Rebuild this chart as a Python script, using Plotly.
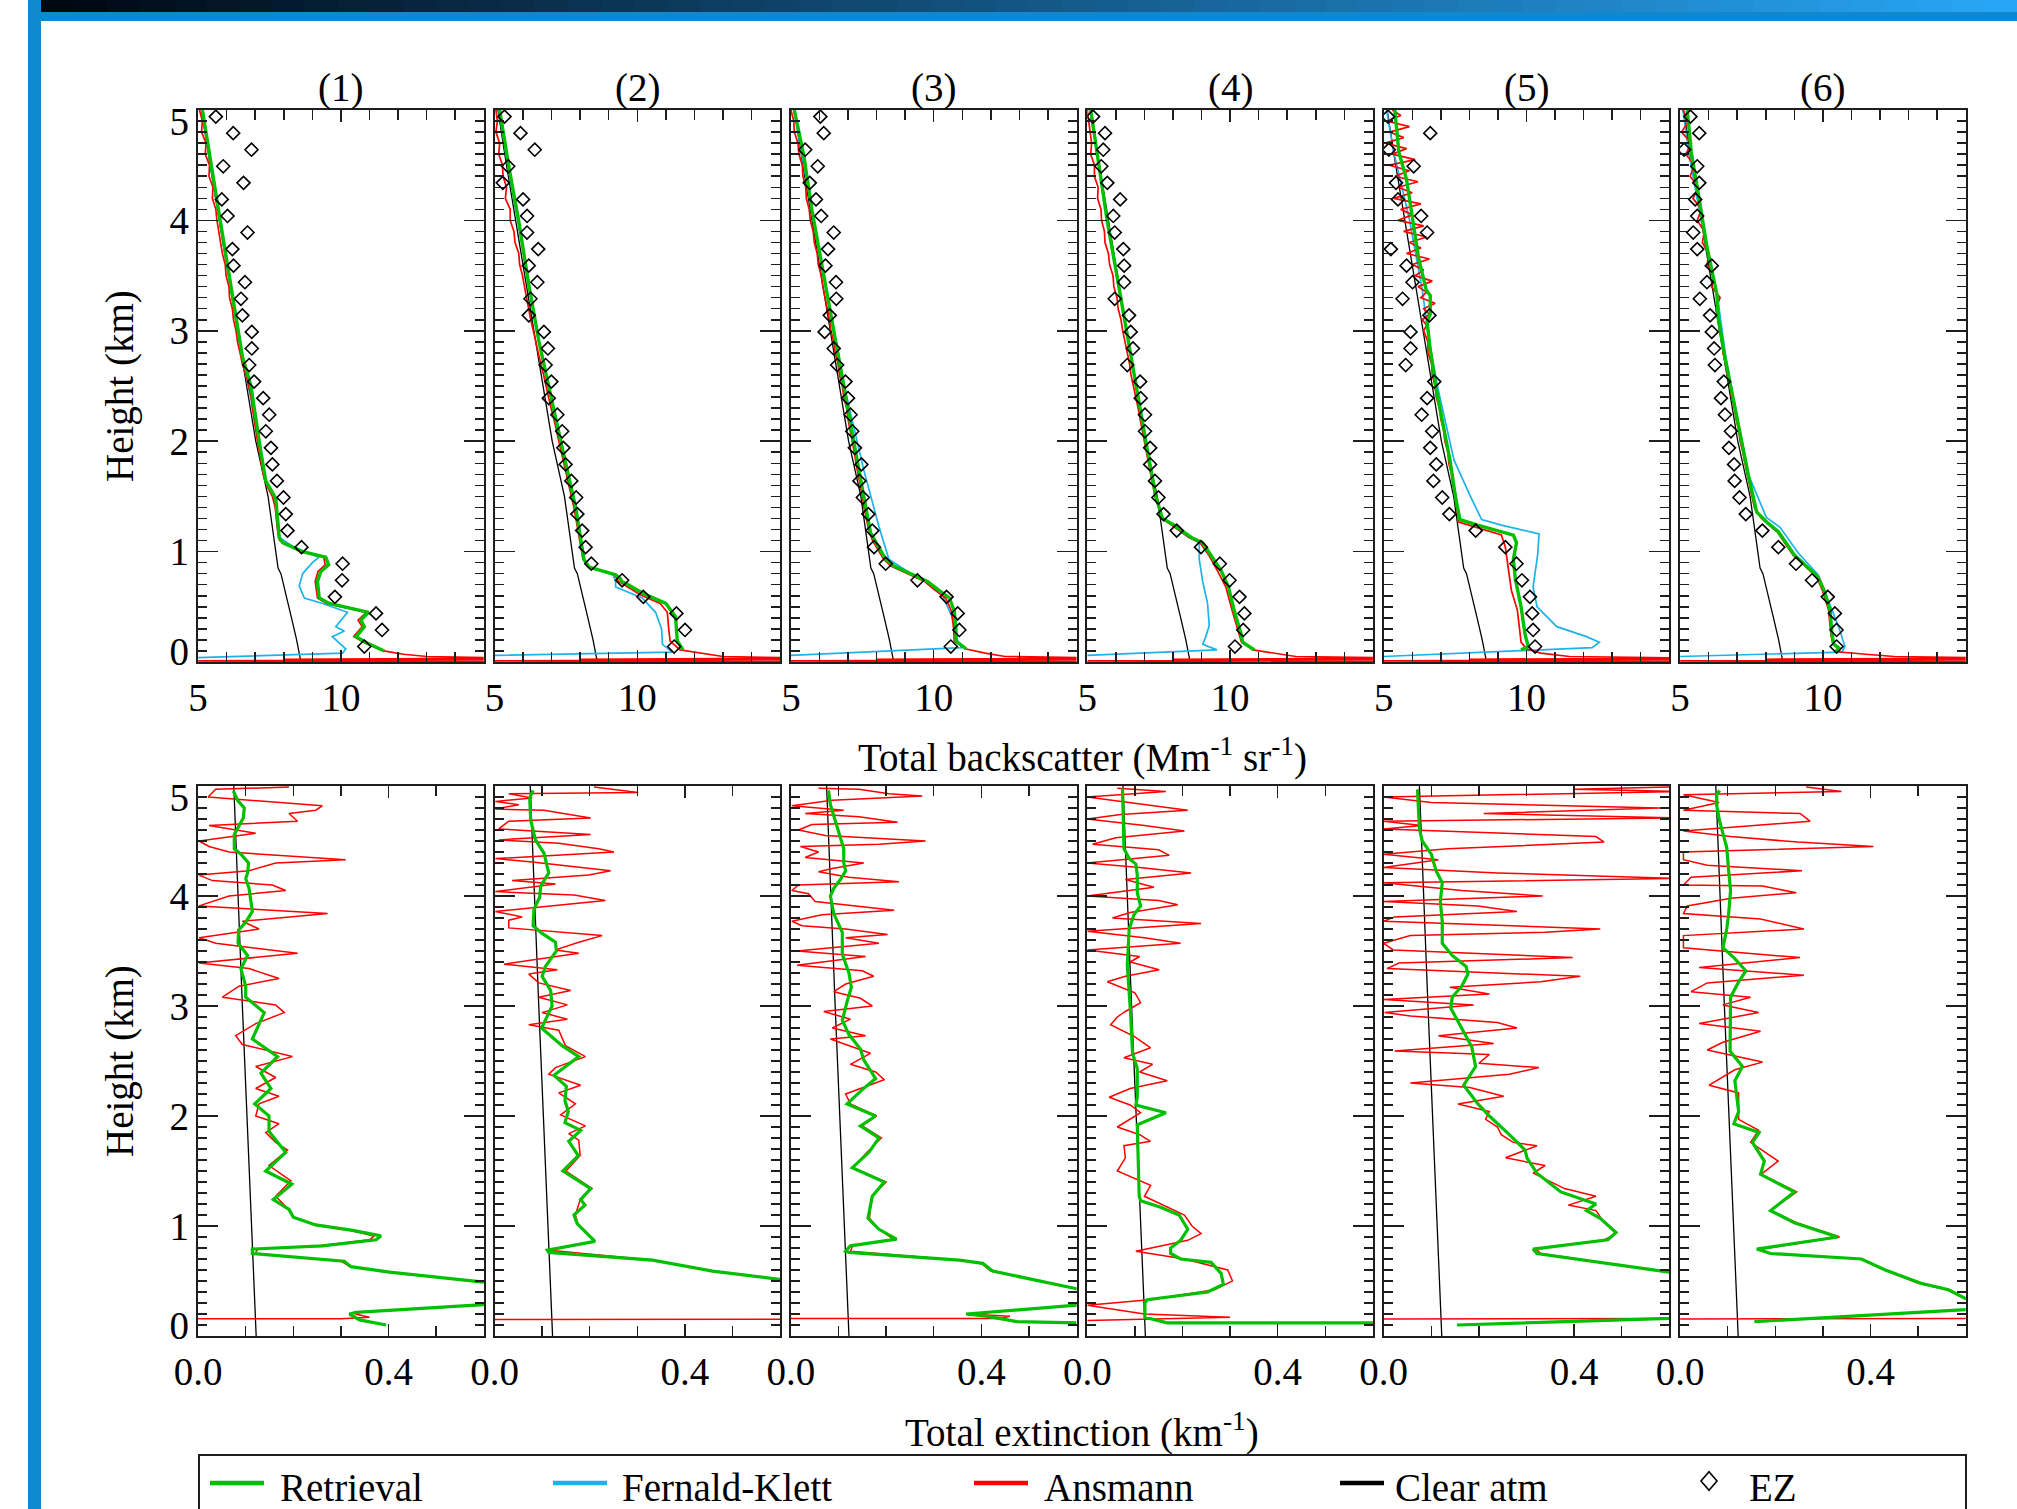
import plotly.graph_objects as go

W, H = 2017, 1509
SERIF = "Liberation Serif"
FS = 39

GREEN = "#00C000"
CYAN = "#1BB3EA"
RED = "#FF0000"
BLACK = "#000000"
FRAME = "#1e1e1e"

PANEL_TITLES = ["(1)", "(2)", "(3)", "(4)", "(5)", "(6)"]
BSC_TICKS = [5, 10]
BSC_TICKTEXT = ["5", "10"]
EXT_TICKS = [0.0, 0.4]
EXT_TICKTEXT = ["0.0", "0.4"]
HEIGHT_LABEL_POS = [0.1, 1, 2, 3, 4, 4.9]
HEIGHT_TICKTEXT = ["0", "1", "2", "3", "4", "5"]
LEGEND_LABELS = ["Retrieval", "Fernald-Klett", "Ansmann", "Clear atm", "EZ"]

# ---------------- clear atmosphere (shared) ----------------
CLEAR_BSC = [(0.0, 8.6), (0.2, 8.45), (0.4, 8.27), (0.6, 8.08), (0.8, 7.9), (0.85, 7.8), (1.0, 7.72),
             (1.5, 7.45), (2.0, 7.02), (2.5, 6.7), (3.0, 6.38), (3.5, 6.05), (4.0, 5.72), (4.5, 5.42), (5.0, 5.12)]
CLEAR_EXT = [(0.0, 0.122), (1.0, 0.112), (2.0, 0.102), (3.0, 0.093), (4.0, 0.084), (5.0, 0.075)]

EZ_H = [0.14, 0.29, 0.44, 0.59, 0.74, 0.89, 1.04, 1.19, 1.34, 1.49, 1.64, 1.79, 1.94, 2.09, 2.24, 2.39, 2.54,
        2.69, 2.84, 2.99, 3.14, 3.29, 3.44, 3.59, 3.74, 3.89, 4.04, 4.19, 4.34, 4.49, 4.64, 4.79, 4.94]

# ---------------- backscatter: (height km, value) ----------------
RET_BSC_1 = [(5.0, 5.15), (4.8, 5.27), (4.25, 5.62), (3.88, 5.85), (3.5, 6.09), (3.14, 6.32), (2.77, 6.55), (2.5, 6.85),
             (2.2, 7.02), (1.9, 7.2), (1.64, 7.37), (1.48, 7.72), (1.13, 7.84), (1.08, 7.96), (1.0, 8.66), (0.95, 9.47),
             (0.88, 9.57), (0.82, 9.3), (0.73, 9.18), (0.58, 9.24), (0.53, 9.59), (0.49, 10.3), (0.45, 10.97),
             (0.38, 10.7), (0.32, 10.82), (0.23, 10.53), (0.17, 10.93), (0.1, 11.52)]
FK_BSC_1 = [(5.0, 5.12), (4.25, 5.6), (3.5, 6.07), (2.77, 6.53), (2.2, 7.0), (1.64, 7.35), (1.48, 7.68), (1.13, 7.82),
            (1.05, 8.3), (1.0, 8.7), (0.95, 9.24), (0.9, 9.0), (0.8, 8.66), (0.69, 8.54), (0.58, 8.72), (0.53, 9.36),
            (0.45, 10.23), (0.32, 9.82), (0.28, 10.12), (0.23, 9.7), (0.12, 10.17), (0.08, 10.06), (0.04, 5.0)]
ANS_BSC_1 = [(5.0, 5.05), (4.9, 5.15), (4.8, 5.12), (4.7, 5.28), (4.6, 5.25), (4.5, 5.4), (4.4, 5.38), (4.3, 5.52),
             (4.2, 5.5), (4.1, 5.62), (4.0, 5.66), (3.9, 5.72), (3.8, 5.8), (3.7, 5.85), (3.6, 5.95), (3.5, 5.98),
             (3.4, 6.08), (3.3, 6.1), (3.2, 6.2), (3.1, 6.24), (3.0, 6.33), (2.9, 6.38), (2.8, 6.47), (2.7, 6.55),
             (2.6, 6.68), (2.5, 6.76), (2.4, 6.86), (2.3, 6.9), (2.2, 6.97), (2.1, 7.02), (2.0, 7.08), (1.9, 7.14),
             (1.8, 7.22), (1.7, 7.28), (1.6, 7.4), (1.5, 7.6), (1.4, 7.7), (1.3, 7.74), (1.2, 7.78), (1.1, 7.85),
             (1.0, 8.6), (0.95, 9.4), (0.88, 9.45), (0.82, 9.2), (0.73, 9.1), (0.58, 9.18), (0.53, 9.5), (0.49, 10.2),
             (0.45, 10.9), (0.38, 10.6), (0.32, 10.75), (0.23, 10.45), (0.17, 10.85), (0.1, 11.5), (0.07, 12.2),
             (0.05, 13.0), (0.035, 16.0), (0.025, 8.0), (0.02, 16.0), (0.01, 5.0), (0.0, 16.0)]
EZ_BSC_1 = [10.82, 11.44, 11.23, 9.79, 10.04, 10.06, 8.62, 8.13, 8.07, 7.99, 7.76, 7.6, 7.55, 7.37, 7.49, 7.28, 6.96,
            6.79, 6.88, 6.88, 6.55, 6.5, 6.64, 6.24, 6.2, 6.73, 6.03, 5.83, 6.59, 5.88, 6.87, 6.23, 5.62]

RET_BSC_2 = [(5.0, 5.18), (4.49, 5.5), (3.99, 5.85), (3.42, 6.2), (2.91, 6.55), (2.41, 6.96), (1.94, 7.37), (1.4, 7.84),
             (0.93, 8.13), (0.86, 8.31), (0.79, 9.24), (0.75, 9.42), (0.73, 9.45), (0.71, 9.6), (0.61, 10.29),
             (0.53, 11.0), (0.41, 11.34), (0.19, 11.4), (0.11, 11.6)]
FK_BSC_2 = [(5.0, 5.15), (4.49, 5.47), (3.99, 5.82), (3.42, 6.2), (2.91, 6.56), (2.41, 6.98), (1.94, 7.4), (1.4, 7.86),
            (0.93, 8.15), (0.86, 8.3), (0.79, 9.15), (0.73, 9.24), (0.68, 9.24), (0.58, 10.17), (0.45, 10.64),
            (0.3, 10.85), (0.16, 10.88), (0.09, 11.23), (0.06, 5.0)]
ANS_BSC_2 = [(5.0, 5.05), (4.9, 5.1), (4.8, 5.05), (4.7, 5.18), (4.6, 5.15), (4.5, 5.28), (4.4, 5.3), (4.3, 5.42),
             (4.2, 5.38), (4.1, 5.55), (4.0, 5.55), (3.9, 5.68), (3.8, 5.72), (3.7, 5.85), (3.6, 5.88), (3.5, 5.98),
             (3.4, 6.05), (3.3, 6.12), (3.2, 6.2), (3.1, 6.27), (3.0, 6.36), (2.9, 6.44), (2.8, 6.52), (2.7, 6.62),
             (2.6, 6.72), (2.5, 6.8), (2.4, 6.9), (2.3, 6.98), (2.2, 7.08), (2.1, 7.16), (2.0, 7.26), (1.9, 7.34),
             (1.8, 7.43), (1.7, 7.52), (1.6, 7.62), (1.5, 7.7), (1.4, 7.78), (1.3, 7.85), (1.2, 7.92), (1.1, 7.98),
             (1.0, 8.05), (0.93, 8.1), (0.86, 8.35), (0.79, 9.2), (0.73, 9.35), (0.61, 10.1), (0.53, 10.8),
             (0.45, 11.05), (0.3, 11.1), (0.19, 11.15), (0.11, 11.5), (0.08, 12.2), (0.05, 13.0), (0.035, 16.0),
             (0.025, 8.0), (0.02, 16.0), (0.01, 5.0), (0.0, 16.0)]
EZ_BSC_2 = [11.29, 11.67, 11.37, 10.21, 9.47, 8.39, 8.19, 8.07, 7.9, 7.86, 7.69, 7.49, 7.41, 7.37, 7.2, 6.9, 6.99,
            6.79, 6.87, 6.73, 6.2, 6.26, 6.5, 6.2, 6.53, 6.14, 6.14, 6.0, 5.29, 5.48, 6.41, 5.91, 5.35]

RET_BSC_3 = [(5.0, 5.12), (4.59, 5.45), (4.09, 5.74), (3.58, 6.09), (3.08, 6.44), (2.58, 6.79), (2.07, 7.15),
             (1.57, 7.5), (1.17, 7.79), (1.03, 8.08), (0.93, 8.32), (0.87, 8.61), (0.78, 9.37), (0.73, 9.78),
             (0.66, 10.13), (0.58, 10.55), (0.46, 10.72), (0.3, 10.78), (0.19, 10.78), (0.12, 11.13)]
FK_BSC_3 = [(5.0, 5.1), (4.09, 5.73), (3.08, 6.45), (2.41, 6.95), (1.74, 7.55), (1.23, 8.08), (0.93, 8.43),
            (0.79, 9.26), (0.73, 9.7), (0.6, 10.31), (0.4, 10.66), (0.19, 10.84), (0.13, 11.0), (0.06, 5.0)]
ANS_BSC_3 = [(5.0, 5.0), (4.9, 5.1), (4.8, 5.12), (4.7, 5.25), (4.6, 5.28), (4.5, 5.4), (4.4, 5.42), (4.3, 5.52),
             (4.2, 5.54), (4.1, 5.64), (4.0, 5.68), (3.9, 5.78), (3.8, 5.82), (3.7, 5.92), (3.6, 5.96), (3.5, 6.06),
             (3.4, 6.12), (3.3, 6.2), (3.2, 6.26), (3.1, 6.35), (3.0, 6.4), (2.9, 6.5), (2.8, 6.55), (2.7, 6.65),
             (2.6, 6.7), (2.5, 6.8), (2.4, 6.85), (2.3, 6.95), (2.2, 7.0), (2.1, 7.08), (2.0, 7.14), (1.9, 7.22),
             (1.8, 7.28), (1.7, 7.36), (1.6, 7.42), (1.5, 7.5), (1.4, 7.56), (1.3, 7.64), (1.2, 7.72), (1.1, 7.86),
             (1.0, 8.08), (0.93, 8.25), (0.87, 8.5), (0.78, 9.3), (0.73, 9.68), (0.66, 10.0), (0.58, 10.42),
             (0.46, 10.62), (0.3, 10.7), (0.19, 10.72), (0.12, 11.1), (0.08, 11.8), (0.05, 12.5), (0.035, 16.0),
             (0.025, 8.0), (0.02, 16.0), (0.01, 5.0), (0.0, 16.0)]
EZ_BSC_3 = [10.6, 10.9, 10.84, 10.45, 9.43, 8.32, 7.91, 7.85, 7.71, 7.52, 7.4, 7.47, 7.24, 7.15, 7.09, 7.0, 6.91,
            6.62, 6.5, 6.18, 6.36, 6.59, 6.58, 6.21, 6.3, 6.5, 6.06, 5.88, 5.66, 5.94, 5.5, 6.15, 6.03]

RET_BSC_4 = [(5.0, 5.12), (4.49, 5.41), (3.99, 5.7), (3.48, 6.05), (2.95, 6.4), (2.41, 6.75), (1.91, 7.11), (1.5, 7.4),
             (1.3, 7.63), (1.24, 8.04), (1.13, 8.63), (1.08, 9.04), (0.97, 9.33), (0.83, 9.68), (0.68, 9.94),
             (0.46, 10.15), (0.26, 10.38), (0.18, 10.44), (0.11, 10.85)]
FK_BSC_4 = [(5.0, 5.1), (3.99, 5.7), (2.95, 6.4), (1.91, 7.11), (1.5, 7.4), (1.3, 7.63), (1.24, 8.0), (1.13, 8.55),
            (1.08, 8.92), (0.93, 8.92), (0.73, 9.04), (0.53, 9.21), (0.33, 9.27), (0.23, 9.15), (0.16, 9.04),
            (0.11, 9.54), (0.06, 5.0)]
ANS_BSC_4 = [(5.0, 5.0), (4.9, 5.05), (4.8, 5.08), (4.7, 5.15), (4.6, 5.12), (4.5, 5.25), (4.4, 5.25), (4.3, 5.38),
             (4.2, 5.36), (4.1, 5.48), (4.0, 5.5), (3.9, 5.6), (3.8, 5.62), (3.7, 5.74), (3.6, 5.78), (3.5, 5.9),
             (3.4, 5.93), (3.3, 6.04), (3.2, 6.08), (3.1, 6.18), (3.0, 6.24), (2.9, 6.32), (2.8, 6.38), (2.7, 6.48),
             (2.6, 6.53), (2.5, 6.62), (2.4, 6.7), (2.3, 6.78), (2.2, 6.85), (2.1, 6.92), (2.0, 7.0), (1.9, 7.08),
             (1.8, 7.15), (1.7, 7.22), (1.6, 7.3), (1.5, 7.37), (1.4, 7.5), (1.3, 7.6), (1.24, 7.95), (1.13, 8.55),
             (1.08, 8.95), (0.97, 9.25), (0.83, 9.55), (0.68, 9.85), (0.46, 10.08), (0.26, 10.3), (0.18, 10.4),
             (0.11, 10.8), (0.08, 11.5), (0.05, 12.3), (0.035, 16.0), (0.025, 8.0), (0.02, 16.0), (0.01, 5.0),
             (0.0, 16.0)]
EZ_BSC_4 = [10.17, 10.46, 10.5, 10.33, 9.98, 9.64, 8.98, 8.13, 7.67, 7.49, 7.37, 7.2, 7.2, 7.02, 7.02, 6.87, 6.85,
            6.4, 6.6, 6.52, 6.46, 5.96, 6.29, 6.29, 6.26, 5.96, 5.91, 6.15, 5.7, 5.49, 5.56, 5.62, 5.2]

RET_BSC_5 = [(5.0, 5.39), (4.62, 5.53), (4.37, 5.8), (4.01, 6.01), (3.66, 6.22), (3.37, 6.49), (3.32, 6.63),
             (3.15, 6.63), (3.08, 6.52), (2.83, 6.63), (2.47, 6.84), (2.19, 7.05), (1.83, 7.32), (1.47, 7.53),
             (1.29, 7.67), (1.24, 8.29), (1.18, 9.12), (1.15, 9.54), (1.08, 9.65), (0.93, 9.54), (0.75, 9.61),
             (0.5, 9.81), (0.25, 9.95), (0.14, 10.06), (0.11, 9.81)]
FK_BSC_5 = [(5.0, 5.1), (4.62, 5.35), (4.01, 5.9), (3.37, 6.35), (3.08, 6.5), (2.83, 6.65), (2.5, 6.88), (2.3, 7.05),
            (1.83, 7.46), (1.51, 8.02), (1.29, 8.43), (1.24, 9.12), (1.16, 10.44), (0.97, 10.39), (0.68, 10.23),
            (0.5, 10.37), (0.32, 11.06), (0.23, 12.1), (0.18, 12.55), (0.13, 12.3), (0.05, 5.0)]
ANS_BSC_5 = [(5.0, 5.3), (4.95, 5.6), (4.9, 5.1), (4.85, 5.9), (4.8, 5.2), (4.75, 5.7), (4.7, 5.05), (4.65, 5.8),
             (4.6, 5.3), (4.55, 6.1), (4.5, 5.2), (4.45, 5.9), (4.4, 5.4), (4.35, 6.2), (4.3, 5.5), (4.25, 6.0),
             (4.2, 5.35), (4.15, 6.3), (4.1, 5.6), (4.05, 6.0), (4.0, 5.5), (3.95, 6.4), (3.9, 5.7), (3.85, 6.5),
             (3.8, 5.9), (3.75, 6.3), (3.7, 5.8), (3.65, 6.6), (3.6, 6.0), (3.55, 6.4), (3.5, 6.1), (3.45, 6.7),
             (3.4, 6.2), (3.35, 6.5), (3.3, 6.3), (3.25, 6.8), (3.2, 6.4), (3.15, 6.6), (3.1, 6.35), (3.05, 6.5),
             (3.0, 6.4), (2.9, 6.55), (2.8, 6.55), (2.7, 6.68), (2.6, 6.7), (2.5, 6.8), (2.4, 6.84), (2.3, 6.95),
             (2.2, 7.0), (2.1, 7.1), (2.0, 7.14), (1.9, 7.25), (1.8, 7.28), (1.7, 7.38), (1.6, 7.42), (1.5, 7.5),
             (1.4, 7.55), (1.3, 7.62), (1.27, 7.6), (1.2, 8.5), (1.15, 9.12), (1.04, 9.26), (0.9, 9.33), (0.65, 9.47),
             (0.47, 9.68), (0.18, 9.81), (0.12, 10.0), (0.08, 10.5), (0.05, 11.5), (0.035, 16.0), (0.025, 8.0),
             (0.02, 16.0), (0.01, 5.0), (0.0, 16.0)]
EZ_BSC_5 = [10.3, 10.23, 10.2, 10.12, 9.84, 9.65, 9.26, 8.22, 7.3, 7.05, 6.74, 6.84, 6.63, 6.7, 6.33, 6.52, 6.77,
            5.77, 5.94, 5.94, 6.6, 5.66, 6.01, 5.8, 5.25, 6.52, 6.31, 5.5, 5.43, 6.05, 5.18, 6.63, 5.15]

RET_BSC_6 = [(5.0, 5.25), (4.62, 5.39), (4.19, 5.67), (3.76, 5.94), (3.33, 6.29), (3.12, 6.33), (2.76, 6.57),
             (2.4, 6.84), (2.04, 7.12), (1.68, 7.4), (1.36, 7.68), (1.27, 8.02), (1.18, 8.44), (0.97, 9.0),
             (0.77, 9.83), (0.65, 10.04), (0.47, 10.25), (0.25, 10.32), (0.16, 10.38), (0.13, 10.55), (0.09, 10.45)]
FK_BSC_6 = [(5.0, 5.1), (4.62, 5.3), (4.19, 5.6), (3.76, 5.92), (3.33, 6.3), (2.76, 6.6), (2.04, 7.14), (1.68, 7.42),
            (1.31, 8.02), (1.22, 8.5), (0.99, 9.13), (0.79, 9.83), (0.57, 10.17), (0.29, 10.59), (0.14, 10.77),
            (0.09, 10.66), (0.05, 5.0)]
ANS_BSC_6 = [(5.0, 5.1), (4.9, 5.3), (4.8, 5.05), (4.7, 5.4), (4.6, 5.2), (4.5, 5.5), (4.4, 5.35), (4.3, 5.65),
             (4.2, 5.45), (4.1, 5.75), (4.0, 5.6), (3.9, 5.85), (3.8, 5.78), (3.7, 6.0), (3.6, 5.95), (3.5, 6.15),
             (3.4, 6.1), (3.3, 6.4), (3.2, 6.25), (3.1, 6.35), (3.0, 6.38), (2.9, 6.5), (2.8, 6.5), (2.7, 6.6),
             (2.6, 6.65), (2.5, 6.75), (2.4, 6.8), (2.3, 6.9), (2.2, 6.96), (2.1, 7.05), (2.0, 7.1), (1.9, 7.2),
             (1.8, 7.27), (1.7, 7.35), (1.6, 7.42), (1.5, 7.52), (1.4, 7.6), (1.3, 7.85), (1.18, 8.4), (0.97, 8.95),
             (0.77, 9.78), (0.65, 9.98), (0.47, 10.2), (0.25, 10.28), (0.16, 10.35), (0.13, 10.5), (0.09, 10.6),
             (0.07, 11.5), (0.05, 12.5), (0.035, 16.0), (0.025, 8.0), (0.02, 16.0), (0.01, 5.0), (0.0, 16.0)]
EZ_BSC_6 = [10.48, 10.48, 10.42, 10.17, 9.62, 9.06, 8.44, 7.88, 7.3, 7.08, 6.91, 6.89, 6.71, 6.78, 6.57, 6.43, 6.53,
            6.22, 6.19, 6.11, 6.05, 5.69, 5.94, 6.11, 5.6, 5.46, 5.6, 5.53, 5.67, 5.6, 5.14, 5.67, 5.36]

# ---------------- extinction: (height km, value km^-1) ----------------
RET_EXT_1 = [(4.955, 0.074), (4.87, 0.083), (4.8, 0.097), (4.71, 0.095), (4.56, 0.076), (4.43, 0.076), (4.38, 0.09),
             (4.3, 0.106), (4.21, 0.104), (4.16, 0.1), (4.07, 0.107), (3.95, 0.111), (3.86, 0.114), (3.76, 0.1),
             (3.69, 0.085), (3.57, 0.084), (3.46, 0.104), (3.34, 0.09), (3.18, 0.1), (3.08, 0.1), (2.94, 0.139),
             (2.7, 0.114), (2.54, 0.167), (2.39, 0.132), (2.25, 0.153), (2.11, 0.119), (2.0, 0.149), (1.86, 0.149),
             (1.67, 0.184), (1.5, 0.142), (1.38, 0.197), (1.24, 0.158), (1.15, 0.191), (1.08, 0.2), (1.01, 0.247),
             (0.96, 0.325), (0.91, 0.384), (0.875, 0.374), (0.82, 0.261), (0.79, 0.114), (0.75, 0.114),
             (0.68, 0.307), (0.63, 0.321), (0.58, 0.402), (0.49, 0.6), (0.4, 0.9), (0.33, 0.9), (0.285, 0.6),
             (0.215, 0.332), (0.2, 0.318), (0.146, 0.339), (0.1, 0.395)]
ANS_EXT_1 = [(4.99, 0.191), (4.97, 0.037), (4.9, 0.021), (4.82, 0.261), (4.78, 0.247), (4.75, 0.191), (4.68, 0.209),
             (4.64, 0.023), (4.57, 0.121), (4.5, 0.002), (4.45, 0.023), (4.4, 0.065), (4.33, 0.31), (4.3, 0.163),
             (4.23, 0.107), (4.19, 0.002), (4.14, 0.03), (4.1, 0.156), (4.05, 0.184), (4.0, 0.065), (3.91, 0.002),
             (3.84, 0.272), (3.77, 0.093), (3.7, 0.128), (3.62, 0.002), (3.57, 0.037), (3.48, 0.209), (3.39, 0.002),
             (3.34, 0.107), (3.25, 0.17), (3.18, 0.086), (3.08, 0.051), (3.01, 0.163), (2.94, 0.181), (2.84, 0.121),
             (2.73, 0.079), (2.65, 0.093), (2.54, 0.198), (2.45, 0.121), (2.35, 0.163), (2.25, 0.121), (2.18, 0.17),
             (2.11, 0.128), (2.0, 0.121), (1.93, 0.17), (1.85, 0.142), (1.76, 0.163), (1.69, 0.188), (1.55, 0.149),
             (1.41, 0.195), (1.27, 0.163), (1.15, 0.19), (1.08, 0.2), (1.01, 0.245), (0.96, 0.32), (0.91, 0.37),
             (0.875, 0.36), (0.82, 0.255), (0.79, 0.125), (0.75, 0.12), (0.68, 0.3), (0.63, 0.32), (0.58, 0.4),
             (0.49, 0.6), (0.4, 0.9), (0.33, 0.9), (0.285, 0.6), (0.215, 0.34), (0.2, 0.33), (0.17, 0.36),
             (0.156, 0.3), (0.156, 0.0)]

RET_EXT_2 = [(4.96, 0.081), (4.89, 0.074), (4.69, 0.076), (4.51, 0.086), (4.39, 0.104), (4.21, 0.114), (4.09, 0.097),
             (3.99, 0.095), (3.88, 0.083), (3.73, 0.081), (3.66, 0.1), (3.58, 0.128), (3.5, 0.13), (3.36, 0.107),
             (3.27, 0.1), (3.14, 0.118), (3.0, 0.121), (2.8, 0.099), (2.64, 0.142), (2.54, 0.177), (2.37, 0.125),
             (2.27, 0.151), (2.14, 0.148), (2.04, 0.155), (1.94, 0.148), (1.87, 0.181), (1.77, 0.156), (1.64, 0.176),
             (1.5, 0.144), (1.34, 0.202), (1.24, 0.181), (1.19, 0.19), (1.1, 0.167), (1.02, 0.174), (0.86, 0.211),
             (0.78, 0.111), (0.76, 0.114), (0.69, 0.332), (0.59, 0.458), (0.51, 0.6), (0.3, 1.0), (0.1, 1.2)]
ANS_EXT_2 = [(4.99, 0.209), (4.94, 0.302), (4.93, 0.03), (4.89, 0.079), (4.86, 0.002), (4.83, 0.051), (4.79, 0.002),
             (4.78, 0.104), (4.71, 0.202), (4.68, 0.03), (4.61, 0.009), (4.56, 0.202), (4.51, 0.009), (4.48, 0.135),
             (4.43, 0.219), (4.4, 0.251), (4.34, 0.002), (4.31, 0.079), (4.23, 0.244), (4.19, 0.198), (4.14, 0.037),
             (4.11, 0.128), (4.04, 0.002), (4.01, 0.167), (3.96, 0.233), (3.89, 0.072), (3.86, 0.002), (3.81, 0.058),
             (3.78, 0.03), (3.71, 0.03), (3.64, 0.226), (3.58, 0.177), (3.51, 0.128), (3.48, 0.177), (3.38, 0.02),
             (3.33, 0.132), (3.29, 0.072), (3.21, 0.093), (3.14, 0.16), (3.08, 0.093), (3.01, 0.153), (2.94, 0.1),
             (2.88, 0.153), (2.83, 0.072), (2.78, 0.135), (2.64, 0.149), (2.54, 0.191), (2.44, 0.128), (2.38, 0.114),
             (2.28, 0.181), (2.21, 0.135), (2.11, 0.17), (2.01, 0.139), (1.91, 0.191), (1.84, 0.156), (1.78, 0.177),
             (1.64, 0.18), (1.5, 0.15), (1.34, 0.205), (1.24, 0.18), (1.1, 0.17), (1.02, 0.175), (0.86, 0.21),
             (0.78, 0.115), (0.69, 0.33), (0.59, 0.46), (0.51, 0.6), (0.3, 1.0), (0.155, 1.0), (0.15, 0.0)]

RET_EXT_3 = [(4.96, 0.079), (4.83, 0.083), (4.73, 0.09), (4.57, 0.101), (4.43, 0.111), (4.3, 0.111), (4.23, 0.115),
             (4.15, 0.104), (4.07, 0.09), (4.0, 0.083), (3.84, 0.09), (3.67, 0.108), (3.47, 0.108), (3.3, 0.122),
             (3.17, 0.127), (3.04, 0.118), (2.87, 0.108), (2.74, 0.122), (2.61, 0.146), (2.51, 0.153), (2.34, 0.178),
             (2.24, 0.15), (2.11, 0.118), (2.0, 0.178), (1.91, 0.146), (1.8, 0.185), (1.67, 0.164), (1.53, 0.129),
             (1.4, 0.196), (1.27, 0.171), (1.07, 0.162), (0.97, 0.185), (0.88, 0.222), (0.82, 0.125), (0.77, 0.115),
             (0.76, 0.122), (0.69, 0.354), (0.66, 0.403), (0.59, 0.424), (0.43, 0.6), (0.36, 0.8), (0.28, 0.6),
             (0.2, 0.368), (0.18, 0.41), (0.13, 0.475), (0.12, 0.6)]
ANS_EXT_3 = [(4.98, 0.058), (4.97, 0.143), (4.93, 0.206), (4.91, 0.276), (4.87, 0.087), (4.82, 0.002), (4.78, 0.111),
             (4.75, 0.03), (4.72, 0.143), (4.67, 0.224), (4.65, 0.044), (4.6, 0.016), (4.55, 0.072), (4.5, 0.283),
             (4.47, 0.185), (4.45, 0.02), (4.4, 0.058), (4.35, 0.03), (4.3, 0.153), (4.25, 0.087), (4.22, 0.058),
             (4.17, 0.122), (4.13, 0.227), (4.1, 0.016), (4.05, 0.002), (4.02, 0.037), (3.95, 0.051), (3.87, 0.217),
             (3.83, 0.065), (3.77, 0.002), (3.73, 0.023), (3.7, 0.115), (3.65, 0.203), (3.62, 0.115), (3.57, 0.185),
             (3.5, 0.013), (3.45, 0.157), (3.37, 0.013), (3.32, 0.15), (3.27, 0.174), (3.2, 0.115), (3.13, 0.09),
             (3.07, 0.146), (3.0, 0.171), (2.95, 0.069), (2.88, 0.125), (2.8, 0.087), (2.73, 0.157), (2.7, 0.083),
             (2.63, 0.129), (2.57, 0.167), (2.47, 0.125), (2.4, 0.178), (2.33, 0.196), (2.2, 0.115), (2.11, 0.125),
             (2.0, 0.18), (1.91, 0.15), (1.8, 0.19), (1.67, 0.16), (1.53, 0.13), (1.4, 0.2), (1.27, 0.17),
             (1.07, 0.165), (0.97, 0.185), (0.88, 0.215), (0.82, 0.13), (0.77, 0.125), (0.69, 0.35), (0.66, 0.4),
             (0.59, 0.42), (0.43, 0.6), (0.36, 0.8), (0.28, 0.6), (0.2, 0.37), (0.18, 0.46), (0.16, 0.44),
             (0.16, 0.0)]

RET_EXT_4 = [(4.98, 0.074), (4.43, 0.077), (4.34, 0.088), (4.29, 0.102), (4.19, 0.105), (4.03, 0.105), (3.91, 0.112),
             (3.83, 0.098), (3.7, 0.088), (3.37, 0.084), (2.93, 0.091), (2.57, 0.095), (2.43, 0.105), (2.17, 0.105),
             (2.1, 0.102), (2.03, 0.165), (1.92, 0.105), (1.27, 0.109), (1.23, 0.112), (1.17, 0.154), (1.1, 0.193),
             (0.97, 0.211), (0.87, 0.196), (0.8, 0.175), (0.75, 0.175), (0.7, 0.196), (0.67, 0.26), (0.57, 0.281),
             (0.47, 0.286), (0.4, 0.253), (0.33, 0.126), (0.3, 0.121), (0.17, 0.121), (0.12, 0.168), (0.12, 0.62)]
ANS_EXT_4 = [(4.98, 0.063), (4.95, 0.165), (4.9, 0.0), (4.85, 0.09), (4.78, 0.211), (4.74, 0.07), (4.7, 0.0),
             (4.64, 0.12), (4.59, 0.204), (4.53, 0.06), (4.47, 0.011), (4.42, 0.15), (4.37, 0.172), (4.3, 0.0),
             (4.26, 0.11), (4.21, 0.218), (4.15, 0.08), (4.08, 0.14), (4.0, 0.0), (3.96, 0.15), (3.92, 0.19),
             (3.85, 0.09), (3.8, 0.053), (3.75, 0.239), (3.68, 0.0), (3.62, 0.12), (3.57, 0.196), (3.51, 0.0),
             (3.45, 0.11), (3.4, 0.09), (3.33, 0.151), (3.27, 0.08), (3.22, 0.042), (3.12, 0.1), (3.03, 0.112),
             (2.95, 0.08), (2.9, 0.063), (2.83, 0.049), (2.72, 0.1), (2.62, 0.133), (2.53, 0.077), (2.47, 0.137),
             (2.4, 0.11), (2.32, 0.168), (2.25, 0.09), (2.17, 0.046), (2.1, 0.09), (2.03, 0.112), (1.96, 0.085),
             (1.9, 0.063), (1.83, 0.11), (1.77, 0.133), (1.73, 0.077), (1.62, 0.08), (1.5, 0.063), (1.43, 0.1),
             (1.37, 0.133), (1.27, 0.12), (1.2, 0.154), (1.1, 0.204), (1.0, 0.22), (0.93, 0.239), (0.87, 0.211),
             (0.77, 0.102), (0.7, 0.204), (0.6, 0.295), (0.5, 0.305), (0.42, 0.267), (0.33, 0.13), (0.28, 0.0),
             (0.2, 0.12), (0.17, 0.3), (0.14, 0.0)]

RET_EXT_5 = [(4.97, 0.071), (4.61, 0.075), (4.5, 0.081), (4.38, 0.1), (4.23, 0.11), (4.12, 0.123), (3.95, 0.119),
             (3.77, 0.123), (3.57, 0.123), (3.46, 0.144), (3.36, 0.173), (3.29, 0.177), (3.18, 0.164), (3.08, 0.144),
             (2.98, 0.141), (2.8, 0.164), (2.63, 0.185), (2.45, 0.193), (2.28, 0.168), (2.11, 0.198), (2.0, 0.222),
             (1.83, 0.264), (1.69, 0.297), (1.62, 0.301), (1.48, 0.322), (1.31, 0.372), (1.2, 0.446), (1.14, 0.426),
             (1.07, 0.455), (0.94, 0.488), (0.875, 0.471), (0.79, 0.314), (0.75, 0.322), (0.58, 0.6), (0.4, 0.9),
             (0.2, 0.9), (0.16, 0.6), (0.1, 0.154)]
ANS_EXT_5 = [(4.99, 0.6), (4.97, 0.4), (4.95, 0.62), (4.9, 0.0), (4.85, 0.1), (4.8, 0.58), (4.75, 0.21), (4.71, 0.62),
             (4.68, 0.0), (4.64, 0.08), (4.61, 0.0), (4.54, 0.446), (4.49, 0.463), (4.43, 0.135), (4.38, 0.0),
             (4.33, 0.115), (4.26, 0.0), (4.21, 0.239), (4.16, 0.62), (4.12, 0.0), (4.05, 0.164), (4.0, 0.334),
             (3.95, 0.0), (3.91, 0.198), (3.86, 0.28), (3.81, 0.023), (3.77, 0.0), (3.7, 0.455), (3.67, 0.339),
             (3.64, 0.056), (3.57, 0.0), (3.51, 0.02), (3.44, 0.397), (3.39, 0.032), (3.34, 0.007), (3.27, 0.413),
             (3.22, 0.33), (3.17, 0.139), (3.11, 0.222), (3.06, 0.0), (3.01, 0.189), (2.94, 0.002), (2.91, 0.056),
             (2.85, 0.239), (2.8, 0.28), (2.73, 0.115), (2.66, 0.231), (2.59, 0.023), (2.56, 0.222), (2.48, 0.2),
             (2.44, 0.326), (2.38, 0.264), (2.3, 0.056), (2.26, 0.181), (2.18, 0.252), (2.11, 0.156), (2.04, 0.222),
             (1.97, 0.214), (1.9, 0.239), (1.83, 0.247), (1.76, 0.272), (1.73, 0.322), (1.62, 0.256), (1.55, 0.339),
             (1.48, 0.314), (1.41, 0.347), (1.34, 0.38), (1.27, 0.446), (1.19, 0.388), (1.14, 0.446), (1.03, 0.463),
             (0.94, 0.49), (0.875, 0.465), (0.79, 0.32), (0.75, 0.33), (0.58, 0.6), (0.4, 0.9), (0.16, 0.9),
             (0.155, 0.0)]

RET_EXT_6 = [(4.96, 0.083), (4.92, 0.077), (4.82, 0.077), (4.68, 0.083), (4.57, 0.09), (4.44, 0.098), (4.23, 0.102),
             (4.05, 0.106), (3.84, 0.102), (3.7, 0.098), (3.53, 0.09), (3.43, 0.115), (3.32, 0.138), (3.22, 0.123),
             (3.08, 0.106), (2.8, 0.106), (2.59, 0.105), (2.45, 0.131), (2.32, 0.115), (2.04, 0.123), (1.93, 0.113),
             (1.85, 0.166), (1.76, 0.152), (1.59, 0.177), (1.47, 0.169), (1.31, 0.24), (1.14, 0.19), (1.03, 0.24),
             (0.9, 0.331), (0.79, 0.161), (0.75, 0.19), (0.7, 0.381), (0.6, 0.431), (0.48, 0.506), (0.42, 0.564),
             (0.34, 0.6), (0.3, 0.8), (0.24, 0.6), (0.13, 0.156)]
ANS_EXT_6 = [(4.99, 0.265), (4.95, 0.339), (4.92, 0.007), (4.85, 0.082), (4.78, 0.007), (4.75, 0.252), (4.68, 0.273),
             (4.59, 0.007), (4.54, 0.106), (4.49, 0.248), (4.45, 0.406), (4.4, 0.007), (4.33, 0.007), (4.28, 0.057),
             (4.23, 0.256), (4.17, 0.023), (4.1, 0.007), (4.09, 0.173), (4.03, 0.244), (3.98, 0.107), (3.91, 0.015),
             (3.84, 0.007), (3.79, 0.169), (3.7, 0.26), (3.64, 0.007), (3.53, 0.007), (3.44, 0.252), (3.35, 0.04),
             (3.28, 0.26), (3.21, 0.057), (3.13, 0.023), (3.08, 0.148), (3.01, 0.09), (2.94, 0.165), (2.84, 0.04),
             (2.77, 0.169), (2.67, 0.09), (2.6, 0.057), (2.49, 0.173), (2.42, 0.115), (2.28, 0.061), (2.21, 0.123),
             (2.11, 0.123), (1.97, 0.123), (1.87, 0.165), (1.76, 0.148), (1.59, 0.206), (1.47, 0.17), (1.31, 0.245),
             (1.14, 0.19), (1.03, 0.245), (0.9, 0.335), (0.79, 0.17), (0.75, 0.19), (0.7, 0.38), (0.6, 0.43),
             (0.48, 0.5), (0.42, 0.56), (0.34, 0.6), (0.3, 0.8), (0.16, 0.8), (0.155, 0.0)]

RET_BSC = [RET_BSC_1, RET_BSC_2, RET_BSC_3, RET_BSC_4, RET_BSC_5, RET_BSC_6]
FK_BSC = [FK_BSC_1, FK_BSC_2, FK_BSC_3, FK_BSC_4, FK_BSC_5, FK_BSC_6]
ANS_BSC = [ANS_BSC_1, ANS_BSC_2, ANS_BSC_3, ANS_BSC_4, ANS_BSC_5, ANS_BSC_6]
EZ_BSC = [EZ_BSC_1, EZ_BSC_2, EZ_BSC_3, EZ_BSC_4, EZ_BSC_5, EZ_BSC_6]
RET_EXT = [RET_EXT_1, RET_EXT_2, RET_EXT_3, RET_EXT_4, RET_EXT_5, RET_EXT_6]
ANS_EXT = [ANS_EXT_1, ANS_EXT_2, ANS_EXT_3, ANS_EXT_4, ANS_EXT_5, ANS_EXT_6]

# ---------------- geometry (pixels) ----------------
P_LEFT0, P_STEP, P_W = 198.1, 296.4, 285.6
TOP_Y = (110.0, 662.0)
BOT_Y = (786.0, 1336.0)


def nm(n):
    return "" if n == 1 else str(n)


def xs(pairs):
    return [p[1] for p in pairs]


def hs(pairs):
    return [p[0] for p in pairs]


fig = go.Figure()


def line_trace(pairs, n, color, width):
    fig.add_trace(go.Scatter(x=xs(pairs), y=hs(pairs), mode="lines", xaxis="x" + nm(n), yaxis="y" + nm(n),
                             line=dict(color=color, width=width), showlegend=False, hoverinfo="skip"))


for k in range(6):
    n = k + 1
    line_trace(CLEAR_BSC, n, BLACK, 1.3)
    line_trace(FK_BSC[k], n, CYAN, 1.7)
    line_trace(ANS_BSC[k], n, RED, 1.7)
    line_trace(RET_BSC[k], n, GREEN, 3.4)
    fig.add_trace(go.Scatter(x=EZ_BSC[k], y=EZ_H, mode="markers", xaxis="x" + nm(n), yaxis="y" + nm(n),
                             marker=dict(symbol="diamond-open", size=10, color=BLACK, line=dict(width=1.6, color=BLACK)),
                             showlegend=False, hoverinfo="skip"))
    n2 = k + 7
    line_trace(CLEAR_EXT, n2, BLACK, 1.3)
    line_trace(ANS_EXT[k], n2, RED, 1.5)
    line_trace(RET_EXT[k], n2, GREEN, 3.2)

# dummy traces for label-only overlay axes
fig.add_trace(go.Scatter(x=[None], y=[None], xaxis="x", yaxis="y13", showlegend=False, hoverinfo="skip"))
fig.add_trace(go.Scatter(x=[None], y=[None], xaxis="x7", yaxis="y14", showlegend=False, hoverinfo="skip"))

tickfont = dict(family=SERIF, size=FS, color="black")
layout = {}
y_minor = [round(0.1 * i, 1) for i in range(1, 50) if i % 10 != 0]
for k in range(6):
    left = P_LEFT0 + P_STEP * k
    xd = [left / W, (left + P_W) / W]
    for row in (0, 1):
        n = k + 1 + 6 * row
        ytop, ybot = TOP_Y if row == 0 else BOT_Y
        yd = [1 - ybot / H, 1 - ytop / H]
        if row == 0:
            xr, tv, tt = [5, 15], BSC_TICKS, BSC_TICKTEXT
            mv = [6, 7, 8, 9, 11, 12, 13, 14]
        else:
            xr, tv, tt = [0, 0.6], EXT_TICKS, EXT_TICKTEXT
            mv = [0.1, 0.2, 0.3, 0.5]
        layout["xaxis" + nm(n)] = dict(
            domain=xd, anchor="y" + nm(n), range=xr, showgrid=False, zeroline=False, automargin=False,
            showline=True, linecolor=FRAME, linewidth=2, mirror="ticks",
            ticks="inside", tickmode="array", tickvals=tv, ticktext=tt, ticklen=12, tickwidth=1.5,
            tickcolor=FRAME, tickfont=tickfont, ticklabelstandoff=0,
            minor=dict(tickmode="array", tickvals=mv, ticks="inside", ticklen=10, tickwidth=1.5, tickcolor=FRAME),
        )
        layout["yaxis" + nm(n)] = dict(
            domain=yd, anchor="x" + nm(n), range=[0, 5], showgrid=False, zeroline=False, automargin=False,
            showline=True, linecolor=FRAME, linewidth=2, mirror="ticks",
            ticks="inside", tickmode="array", tickvals=[1, 2, 3, 4], showticklabels=False,
            ticklen=20, tickwidth=1.5, tickcolor=FRAME,
            minor=dict(tickmode="array", tickvals=y_minor, ticks="inside", ticklen=9, tickwidth=1.5,
                       tickcolor=FRAME),
        )

for lab_ax, base_y, base_x in (("yaxis13", "y", "x"), ("yaxis14", "y7", "x7")):
    layout[lab_ax] = dict(overlaying=base_y, anchor=base_x, side="left", range=[0, 5], showgrid=False,
                          zeroline=False, showline=False, ticks="", tickmode="array", automargin=False,
                          tickvals=HEIGHT_LABEL_POS, ticktext=HEIGHT_TICKTEXT, tickfont=tickfont,
                          ticklabelstandoff=8)

annotations = []


def ann(text, xpx, ypx, **kw):
    d = dict(text=text, x=xpx / W, y=1 - ypx / H, xref="paper", yref="paper", showarrow=False,
             font=dict(family=SERIF, size=FS, color="black"), xanchor="center", yanchor="middle")
    d.update(kw)
    annotations.append(d)


for k in range(6):
    left = P_LEFT0 + P_STEP * k
    ann(PANEL_TITLES[k], left + P_W / 2, 87.5)
ann("Height (km)", 120, 386, textangle=-90)
ann("Height (km)", 120, 1061, textangle=-90)
ann("Total backscatter (Mm<sup>-1</sup> sr<sup>-1</sup>)", 1082, 756)
ann("Total extinction (km<sup>-1</sup>)", 1082, 1430)

LEG_TEXT_X = [278, 620, 1042, 1393, 1747]
for lab, tx in zip(LEGEND_LABELS, LEG_TEXT_X):
    ann(lab, tx, 1487, xanchor="left")

shapes = []
# header gradient band
N_STRIP = 60
x_start = 41.0
for i in range(N_STRIP):
    t = i / (N_STRIP - 1)
    r = int(0 + 40 * t)
    g = int(8 + 158 * t)
    b = int(20 + 226 * t)
    x0 = x_start + (W - x_start) * i / N_STRIP
    x1 = x_start + (W - x_start) * (i + 1) / N_STRIP + 1
    shapes.append(dict(type="rect", xref="paper", yref="paper", x0=x0 / W, x1=x1 / W, y0=1 - 12 / H, y1=1,
                       fillcolor=f"rgb({r},{g},{b})", line=dict(width=0), layer="above"))
shapes.append(dict(type="rect", xref="paper", yref="paper", x0=28 / W, x1=1, y0=1 - 21 / H, y1=1 - 12 / H,
                   fillcolor="#1088CF", line=dict(width=0), layer="above"))
shapes.append(dict(type="rect", xref="paper", yref="paper", x0=28 / W, x1=41 / W, y0=0, y1=1,
                   fillcolor="#1088CF", line=dict(width=0), layer="above"))
# legend box
shapes.append(dict(type="rect", xref="paper", yref="paper", x0=199 / W, x1=1966 / W, y0=-0.05, y1=1 - 1455 / H,
                   line=dict(color=FRAME, width=2), fillcolor="rgba(0,0,0,0)", layer="above"))
LEG_LINES = [((210, 264), GREEN), ((553, 607), CYAN), ((974, 1028), RED), ((1340, 1384), BLACK)]
for (a, b_), col in LEG_LINES:
    shapes.append(dict(type="line", xref="paper", yref="paper", x0=a / W, x1=b_ / W, y0=1 - 1483 / H,
                       y1=1 - 1483 / H, line=dict(color=col, width=4.5), layer="above"))
cx, cy, hd = 1709, 1481, 8
path = (f"M {(cx - hd) / W},{1 - cy / H} L {cx / W},{1 - (cy - hd * 1.15) / H} "
        f"L {(cx + hd) / W},{1 - cy / H} L {cx / W},{1 - (cy + hd * 1.15) / H} Z")
shapes.append(dict(type="path", xref="paper", yref="paper", path=path, line=dict(color=BLACK, width=1.6),
                   layer="above"))

fig.update_layout(width=W, height=H, margin=dict(l=0, r=0, t=0, b=0, autoexpand=False), paper_bgcolor="white",
                  plot_bgcolor="white", showlegend=False, hovermode=False,
                  annotations=annotations, shapes=shapes, **layout)

fig.write_html("out.html", config={"displayModeBar": False, "staticPlot": True},
               post_script="document.body.style.margin='0px';document.body.style.padding='0px';"
                           "document.body.style.overflow='hidden';")
